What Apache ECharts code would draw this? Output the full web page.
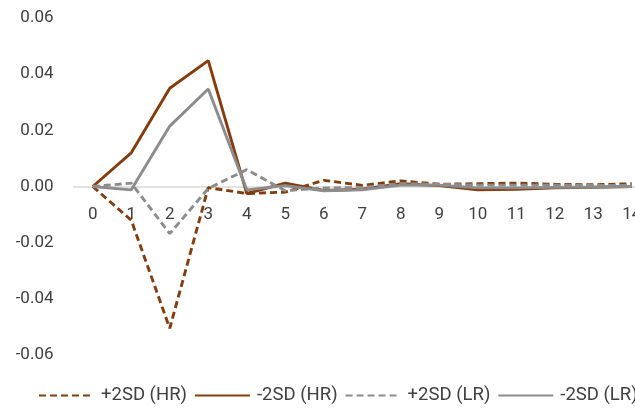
<!DOCTYPE html>
<html><head><meta charset="utf-8">
<script src="https://cdn.jsdelivr.net/npm/echarts@6/dist/echarts.min.js"></script>
<style>html,body{margin:0;padding:0;background:#fff}#c{width:635px;height:412px}</style>
</head><body><div id="c"></div>
<script>
const categories = ['0','1','2','3','4','5','6','7','8','9','10','11','12','13','14'];
const plusHR  = [0, -0.012, -0.0505, -0.0004, -0.0025, -0.002, 0.0022, 0.0004, 0.002, 0.0008, 0.001, 0.0012, 0.0008, 0.0006, 0.001];
const minusHR = [0, 0.012, 0.035, 0.0448, -0.0025, 0.0012, -0.0014, -0.001, 0.001, 0.0003, -0.0012, -0.001, -0.0005, -0.0003, 0];
const plusLR  = [0, 0.0012, -0.0168, -0.0007, 0.006, -0.0015, -0.0005, -0.0004, 0.001, 0.0008, 0.0005, 0.0005, 0.0005, 0.0004, 0.0004];
const minusLR = [0, -0.0012, 0.0215, 0.0347, -0.0012, 0.0003, -0.0015, -0.0012, 0.0005, 0.0005, -0.0005, -0.0005, -0.0003, -0.0002, 0];
const seriesNames = ['+2SD (HR)', '-2SD (HR)', '+2SD (LR)', '-2SD (LR)'];

const FONT = "Roboto, sans-serif";
const BROWN = '#843C0C', GRAY = '#8C8C8C';
function mk(name, data, color, type) {
  return { name, type: 'line', data, symbol: 'none', smooth: false,
    lineStyle: { color, width: 2.9, type: type === 'dashed' ? [7, 4] : 'solid' },
    itemStyle: { color } };
}
const chart = echarts.init(document.getElementById('c'));
chart.setOption({
  animation: false,
  textStyle: { fontFamily: FONT },
  grid: { left: 73.5, width: 577.5, top: 18, height: 337, containLabel: false, outerBoundsMode: 'none' },
  legend: {
    top: 386, left: 38, width: 900, padding: 0, itemWidth: 55, itemHeight: 22, itemGap: 7,
    itemStyle: { opacity: 0 },
    textStyle: { fontFamily: FONT, fontSize: 18.5, color: '#404040', padding: [0, 0, 0, 2] },
    data: seriesNames.map((n) => ({ name: n }))
  },
  xAxis: {
    type: 'category', data: categories, boundaryGap: true,
    position: 'bottom', offset: -168.5,
    axisLine: { onZero: false, lineStyle: { color: '#D9D9D9', width: 1.5 } },
    axisTick: { show: false },
    axisLabel: { fontFamily: FONT, fontSize: 17, color: '#404040', margin: 20, interval: 0 },
    splitLine: { show: false }
  },
  yAxis: {
    type: 'value', min: -0.06, max: 0.06, interval: 0.02,
    axisLine: { show: false }, axisTick: { show: false }, splitLine: { show: false },
    axisLabel: { fontFamily: FONT, fontSize: 17, color: '#404040', margin: 20,
      formatter: (v) => v.toFixed(2) }
  },
  series: [
    mk(seriesNames[0], plusHR, BROWN, 'dashed'),
    mk(seriesNames[1], minusHR, BROWN, 'solid'),
    mk(seriesNames[2], plusLR, GRAY, 'dashed'),
    mk(seriesNames[3], minusLR, GRAY, 'solid')
  ]
});
</script></body></html>
